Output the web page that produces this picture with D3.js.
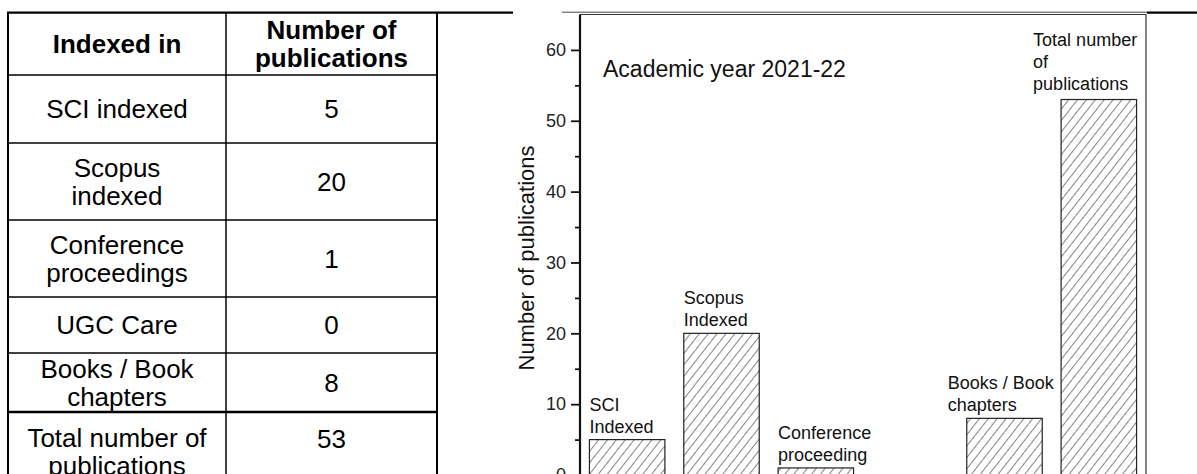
<!DOCTYPE html>
<html lang="en">
<head>
  <title>Publications 2021-22</title>
  <meta charset="UTF-8">
  <style>
    body {
      margin: 0;
      background: #fff;
      font-family: "Liberation Sans", Arial, sans-serif;
    }
  </style>
  <script src="https://cdn.jsdelivr.net/npm/d3@7"></script>
</head>
<body>
<script>
  // table / chart data
  var headerLines = [["Indexed in"], ["Number of", "publications"]];
  var tableLines = [["SCI indexed"], ["Scopus", "indexed"], ["Conference", "proceedings"],
                    ["UGC Care"], ["Books / Book", "chapters"], ["Total number of", "publications"]];
  var publications = [5, 20, 1, 0, 8, 53];
  var barLabels = [["SCI", "Indexed"], ["Scopus", "Indexed"], ["Conference", "proceeding"],
                   [], ["Books / Book", "chapters"], ["Total number", "of", "publications"]];
  var yTicks = [0, 10, 20, 30, 40, 50, 60];
  var yMinorTicks = [5, 15, 25, 35, 45, 55];
  var chartTitle = "Academic year 2021-22";
  var yTitle = "Number of publications";

  drawPage();

  function drawPage() {
    var W = 1197, H = 474;
    var svg = d3.select("body").append("svg").attr("width", W).attr("height", H);

    // ---- table ----
    var colEdges = [8, 226, 437];
    var rowEdges = [12.7, 75, 143, 220, 297, 353, 412, 492];
    var fs = 26, ls = 28;
    var table = svg.append("g");

    function cellText(lines, col, row, bold) {
      var cx = (colEdges[col] + colEdges[col + 1]) / 2;
      var cy = (rowEdges[row] + rowEdges[row + 1]) / 2;
      // last row runs past the bottom of the page crop
      if (row === 6) cy = col === 0 ? 452 : 439;
      var t = table.append("text")
        .attr("text-anchor", "middle")
        .style("font-size", fs + "px")
        .style("font-weight", bold ? "bold" : "normal")
        .attr("fill", "#000");
      lines.forEach(function(l, i) {
        t.append("tspan")
          .attr("x", cx)
          .attr("y", cy + (i - (lines.length - 1) / 2) * ls + fs * 0.36)
          .text(l);
      });
    }

    headerLines.forEach(function(l, c) { cellText(l, c, 0, true); });
    tableLines.forEach(function(l, r) {
      cellText(l, 0, r + 1, false);
      cellText([String(publications[r])], 1, r + 1, false);
    });

    // grid lines
    rowEdges.slice(1, -1).forEach(function(yy, i) {
      table.append("line").attr("x1", colEdges[0]).attr("x2", colEdges[2])
        .attr("y1", yy).attr("y2", yy)
        .attr("stroke", "#000").attr("stroke-width", i === 5 ? 2.5 : 1.5);
    });
    colEdges.forEach(function(xx, i) {
      table.append("line").attr("x1", xx).attr("x2", xx)
        .attr("y1", rowEdges[0]).attr("y2", H)
        .attr("stroke", "#000").attr("stroke-width", i === 1 ? 1.5 : 2);
    });
    // page rule across the top
    svg.append("line").attr("x1", colEdges[0] - 1).attr("x2", 513).attr("y1", 12.7).attr("y2", 12.7)
      .attr("stroke", "#000").attr("stroke-width", 2.2);
    svg.append("line").attr("x1", 1147).attr("x2", W).attr("y1", 12.7).attr("y2", 12.7)
      .attr("stroke", "#000").attr("stroke-width", 2.2);
    svg.append("line").attr("x1", 562).attr("x2", 1147).attr("y1", 12.2).attr("y2", 12.2)
      .attr("stroke", "#444").attr("stroke-width", 1);

    // ---- chart ----
    var plotLeft = 580, plotRight = 1146, plotTop = 14.5;
    var y = d3.scaleLinear().domain([-2, 65]).range([489.2, plotTop]);
    var x = d3.scaleBand().domain(d3.range(publications.length)).range([plotLeft, plotRight])
      .paddingInner(0.2).paddingOuter(0.1);

    var defs = svg.append("defs");
    var hatch = defs.append("pattern").attr("id", "hatch")
      .attr("patternUnits", "userSpaceOnUse").attr("width", 7).attr("height", 7)
      .attr("patternTransform", "rotate(38)");
    hatch.append("rect").attr("width", 7).attr("height", 7).attr("fill", "#fff");
    hatch.append("line").attr("x1", 0).attr("x2", 0).attr("y1", 0).attr("y2", 7)
      .attr("stroke", "#333").attr("stroke-width", 1.2);

    var chart = svg.append("g");

    // frame
    chart.append("path")
      .attr("d", "M" + plotLeft + "," + plotTop + "H" + plotRight + "V" + H)
      .attr("fill", "none").attr("stroke", "#333").attr("stroke-width", 1.2);

    chart.selectAll("rect.bar")
      .data(d3.range(publications.length).filter(function(i) { return publications[i] > 0; }))
      .enter()
      .append("rect")
      .attr("class", "bar")
      .attr("x", function(i) { return x(i); })
      .attr("y", function(i) { return y(publications[i]); })
      .attr("width", x.bandwidth())
      .attr("height", function(i) { return y(0) - y(publications[i]); })
      .attr("fill", "url(#hatch)")
      .attr("stroke", "#222")
      .attr("stroke-width", 1.2);

    // bar labels
    var labelDx = [0, 0, 0, 0, -19, -28];
    barLabels.forEach(function(lines, i) {
      if (!lines.length) return;
      var t = chart.append("text").style("font-size", "18px").attr("fill", "#111");
      var base = y(publications[i]) - 7 - (i === 5 ? 3 : 0);
      lines.forEach(function(l, k) {
        t.append("tspan")
          .attr("x", x(i) + labelDx[i])
          .attr("y", base - (lines.length - 1 - k) * 22)
          .text(l);
      });
    });

    // axes
    var yAxis = chart.append("g")
      .attr("transform", "translate(" + plotLeft + ",0)")
      .call(d3.axisLeft(y).tickValues(yTicks).tickSize(9).tickPadding(5));
    yAxis.select(".domain").attr("d", "M0," + plotTop + "V" + H).attr("stroke-width", 2.2).attr("stroke", "#111");
    yAxis.selectAll(".tick line").attr("stroke-width", 1.8).attr("stroke", "#111");
    yAxis.selectAll(".tick text").style("font-size", "18px")
      .style("font-family", "'Liberation Sans', Arial, sans-serif").attr("fill", "#222");

    var yMinor = chart.append("g")
      .attr("transform", "translate(" + plotLeft + ",0)")
      .call(d3.axisLeft(y).tickValues(yMinorTicks).tickSize(5).tickFormat(""));
    yMinor.select(".domain").remove();
    yMinor.selectAll(".tick line").attr("stroke-width", 1.8).attr("stroke", "#111");

    chart.append("text")
      .attr("x", 603).attr("y", 77)
      .style("font-size", "23px").attr("fill", "#111")
      .text(chartTitle);

    chart.append("text")
      .attr("text-anchor", "middle")
      .attr("transform", "translate(534,258)rotate(-90)")
      .style("font-size", "22px").attr("fill", "#111")
      .text(yTitle);
  }
</script>
</body>
</html>
